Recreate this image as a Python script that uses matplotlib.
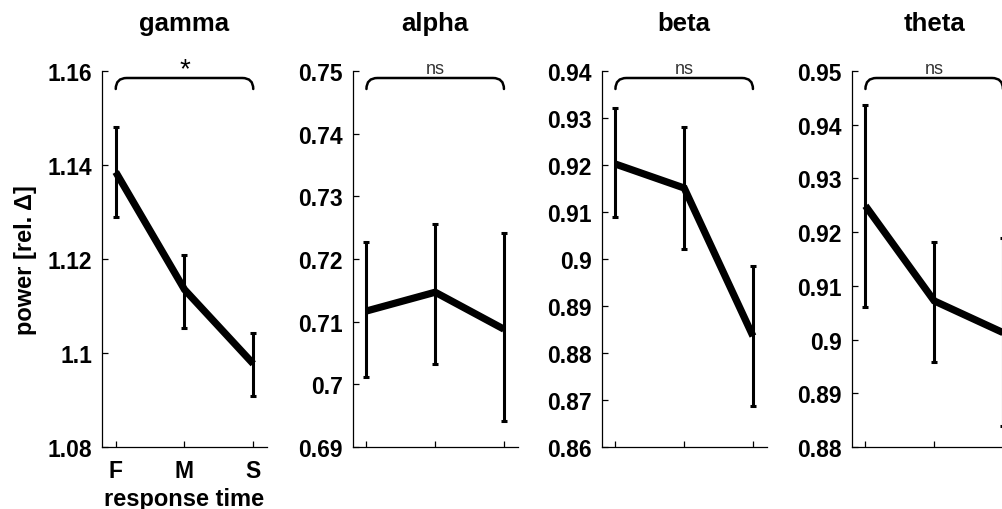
import matplotlib
matplotlib.use("Agg")
import matplotlib.pyplot as plt
from matplotlib.path import Path
from matplotlib.patches import PathPatch
import matplotlib.transforms as mtransforms

plt.rcParams['font.family'] = ['Liberation Sans', 'DejaVu Sans']

categories = ["F", "M", "S"]
bands = ["gamma", "alpha", "beta", "theta"]
significance = ["*", "ns", "ns", "ns"]

gamma_mean = [1.1385, 1.1135, 1.0977]
gamma_err_hi = [1.1480, 1.1209, 1.1043]
gamma_err_lo = [1.1290, 1.1053, 1.0909]

alpha_mean = [0.7117, 0.7147, 0.7088]
alpha_err_hi = [0.7227, 0.7256, 0.7242]
alpha_err_lo = [0.7011, 0.7032, 0.6942]

beta_mean = [0.9202, 0.9151, 0.8836]
beta_err_hi = [0.9321, 0.9281, 0.8985]
beta_err_lo = [0.9089, 0.9021, 0.8688]

theta_mean = [0.9249, 0.9072, 0.9013]
theta_err_hi = [0.9437, 0.9182, 0.9190]
theta_err_lo = [0.9061, 0.8958, 0.8840]

ylims = [(1.08, 1.16), (0.69, 0.75), (0.86, 0.94), (0.88, 0.95)]
yticks = [
    [1.08, 1.10, 1.12, 1.14, 1.16],
    [0.69, 0.70, 0.71, 0.72, 0.73, 0.74, 0.75],
    [0.86, 0.87, 0.88, 0.89, 0.90, 0.91, 0.92, 0.93, 0.94],
    [0.88, 0.89, 0.90, 0.91, 0.92, 0.93, 0.94, 0.95],
]
yticklabels = [
    ["1.08", "1.1", "1.12", "1.14", "1.16"],
    ["0.69", "0.7", "0.71", "0.72", "0.73", "0.74", "0.75"],
    ["0.86", "0.87", "0.88", "0.89", "0.9", "0.91", "0.92", "0.93", "0.94"],
    ["0.88", "0.89", "0.9", "0.91", "0.92", "0.93", "0.94", "0.95"],
]

means = [gamma_mean, alpha_mean, beta_mean, theta_mean]
his = [gamma_err_hi, alpha_err_hi, beta_err_hi, theta_err_hi]
los = [gamma_err_lo, alpha_err_lo, beta_err_lo, theta_err_lo]

W, H = 1003, 510
fig = plt.figure(figsize=(W / 100, H / 100), dpi=100)

lefts_px = [102, 352.7, 601.7, 851.7]
ax_w_px = 165
top_px, bot_px = 72, 448
ax_h_px = bot_px - top_px

x = [1, 2, 3]
for i, band in enumerate(bands):
    ax = fig.add_axes([lefts_px[i] / W, 1 - bot_px / H, ax_w_px / W, ax_h_px / H])
    m = means[i]
    lo_err = [mm - l for mm, l in zip(m, los[i])]
    hi_err = [h - mm for mm, h in zip(m, his[i])]
    ax.errorbar(x, m, yerr=[lo_err, hi_err], fmt='none', ecolor='black',
                elinewidth=2.2, capsize=2.0, capthick=2.2, zorder=2)
    ax.plot(x, m, color='black', lw=5.2, solid_capstyle='butt', solid_joinstyle='miter', zorder=3)
    ax.set_xlim(0.8, 3.2)
    ax.set_ylim(*ylims[i])
    ax.set_yticks(yticks[i])
    ax.set_yticklabels(yticklabels[i])
    ax.set_xticks(x)
    if i == 0:
        ax.set_xticklabels(categories)
    else:
        ax.set_xticklabels([])
    for s in ['top', 'right']:
        ax.spines[s].set_visible(False)
    for s in ['left', 'bottom']:
        ax.spines[s].set_linewidth(0.9)
        ax.spines[s].set_color('black')
    ax.tick_params(direction='in', length=4, width=0.9, labelsize=16.5, pad=7)
    for lab in ax.get_yticklabels() + ax.get_xticklabels():
        lab.set_fontweight('bold')
    ax.tick_params(axis='x', pad=9)
    # title
    ax.text(0.5, (bot_px - 24) / ax_h_px, band, transform=ax.transAxes,
            ha='center', va='center', fontsize=18.5, fontweight='bold')
    # brace
    trans = mtransforms.blended_transform_factory(ax.transData, ax.transAxes)
    y_top = (bot_px - 79) / ax_h_px
    y_end = (bot_px - 90) / ax_h_px
    x0, x1 = x[0], x[-1]
    rx = 0.16
    verts = [(x0, y_end), (x0, y_top), (x0 + rx, y_top),
             (x1 - rx, y_top),
             (x1, y_top), (x1, y_end)]
    codes = [Path.MOVETO, Path.CURVE3, Path.CURVE3, Path.LINETO, Path.CURVE3, Path.CURVE3]
    patch = PathPatch(Path(verts, codes), transform=trans, fill=False, lw=1.8,
                      edgecolor='black', clip_on=False, capstyle='round')
    ax.add_patch(patch)
    sig = significance[i]
    xc = (x0 + x1) / 2
    if sig == "*":
        ax.text(xc, (bot_px - 70) / ax_h_px, sig, transform=trans, ha='center',
                va='center', fontsize=20, fontweight='normal')
    else:
        ax.text(xc, (bot_px - 70) / ax_h_px, sig, transform=trans, ha='center',
                va='center', fontsize=13, color='#333333', fontweight='normal')
    if i == 0:
        ax.set_xlabel("response time", fontsize=17, fontweight='bold', labelpad=3)
        ax.set_ylabel("power [rel. Δ]", fontsize=17, fontweight='bold', labelpad=8)

fig.savefig("out.png", dpi=100)
